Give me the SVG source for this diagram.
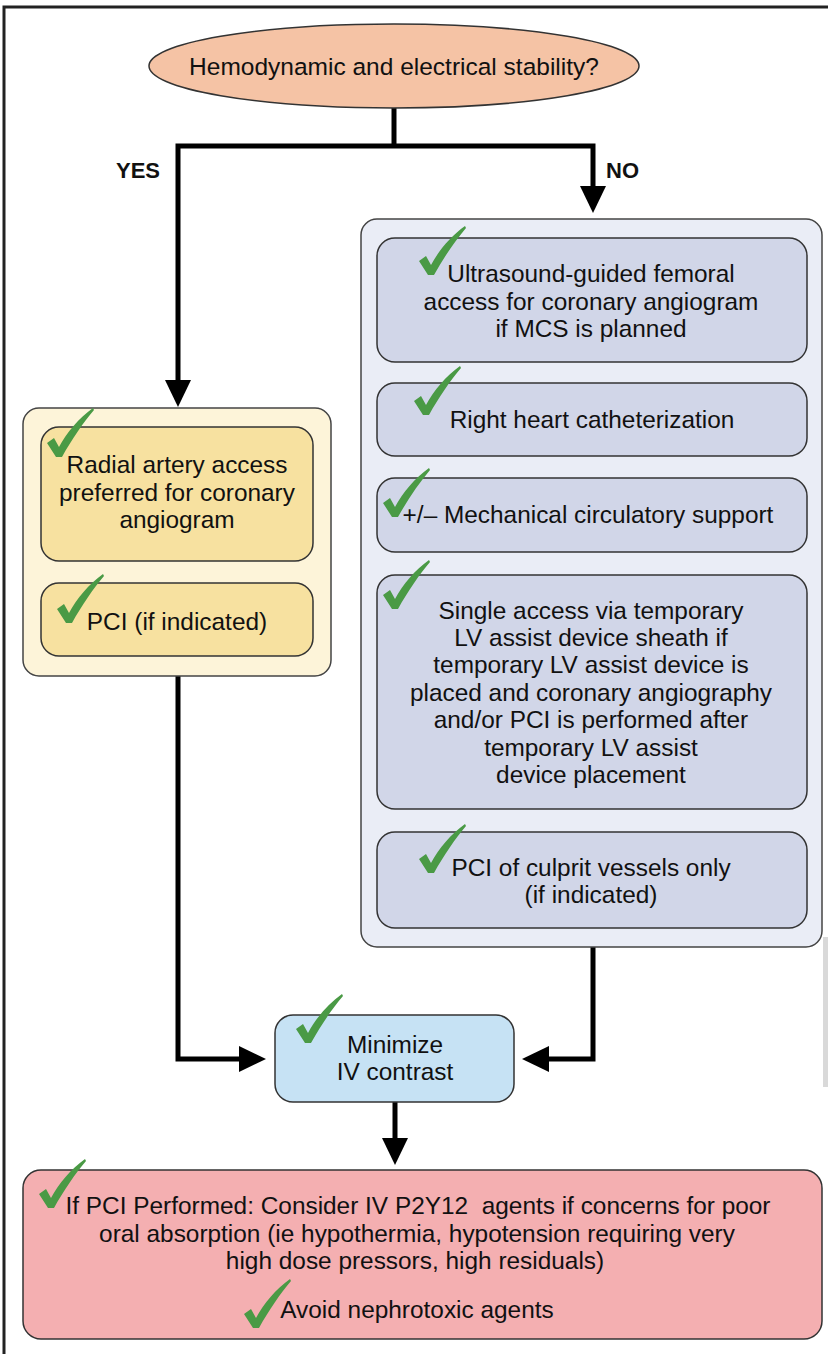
<svg xmlns="http://www.w3.org/2000/svg" xmlns:xlink="http://www.w3.org/1999/xlink" width="828" height="1354" viewBox="0 0 828 1354">
<style>
text{font-family:"Liberation Sans",Arial,Helvetica,sans-serif;fill:#111;}
.t{font-size:24.4px;text-anchor:middle;}
.lbl{font-size:22px;font-weight:bold;}
.box{stroke:#333;stroke-width:1.5;}
.cont{stroke:#444;stroke-width:1.5;}
.blue-in{fill:#d1d6e8;}
.yel-in{fill:#f7e1a0;}
.conn{fill:none;stroke:#000;stroke-width:5;stroke-linejoin:miter;}
.chk{fill:#4a9a45;}
</style>
<defs>
<marker id="ah" markerUnits="userSpaceOnUse" viewBox="0 0 27 26" refX="0" refY="13" markerWidth="27" markerHeight="26" orient="auto">
<path d="M0,0 L27,13 L0,26 Z" fill="#000"/>
</marker>
<path id="ck" class="chk" d="M0,35 L7,30 L12,39 C20,24 32,10 46,0 L47,2 C36,15 25,31 15,49 L9,49 Z"/>
</defs>
<rect width="828" height="1354" fill="#fff"/>
<g id="frame" fill="none" stroke="#222" stroke-width="3">
<path d="M4,1354 V7 H828"/>
</g>
<rect x="823" y="937" width="5" height="150" fill="#d9d9d9"/>

<g id="connectors">
<path class="conn" d="M394,108 V146"/>
<path class="conn" d="M394,146 H178 V380" marker-end="url(#ah)"/>
<path class="conn" d="M394,146 H593 V186" marker-end="url(#ah)"/>
<path class="conn" d="M178,676 V1059 H239" marker-end="url(#ah)"/>
<path class="conn" d="M593,947 V1059 H549" marker-end="url(#ah)"/>
<path class="conn" d="M395,1102 V1138" marker-end="url(#ah)"/>
</g>
<text class="lbl" x="116" y="178">YES</text>
<text class="lbl" x="606" y="178">NO</text>

<g id="start">
<ellipse cx="394" cy="66" rx="245" ry="42" fill="#f5c3a5" stroke="#333" stroke-width="1.5"/>
<text class="t" x="394" y="75" style="font-size:24.5px">Hemodynamic and electrical stability?</text>
</g>

<g id="no-branch">
<rect class="cont" x="361" y="219" width="461" height="728" rx="16" fill="#eaedf6"/>
</g>
<g id="ultrasound">
<rect class="box blue-in" x="377" y="238" width="430" height="124" rx="18"/>
<use xlink:href="#ck" x="419" y="226"/>
<text class="t" x="591" y="282">Ultrasound-guided femoral</text>
<text class="t" x="591" y="310">access for coronary angiogram</text>
<text class="t" x="591" y="337">if MCS is planned</text>
</g>
<g id="rhc">
<rect class="box blue-in" x="377" y="383" width="430" height="73" rx="18"/>
<use xlink:href="#ck" x="414" y="366"/>
<text class="t" x="592" y="428">Right heart catheterization</text>
</g>
<g id="mcs">
<rect class="box blue-in" x="377" y="478" width="430" height="74" rx="18"/>
<use xlink:href="#ck" x="383" y="468"/>
<text class="t" x="588" y="523">+/– Mechanical circulatory support</text>
</g>
<g id="single-access">
<rect class="box blue-in" x="377" y="575" width="430" height="234" rx="18"/>
<use xlink:href="#ck" x="383" y="560"/>
<text class="t" x="591" y="619">Single access via temporary</text>
<text class="t" x="591" y="646">LV assist device sheath if</text>
<text class="t" x="591" y="673">temporary LV assist device is</text>
<text class="t" x="591" y="701">placed and coronary angiography</text>
<text class="t" x="591" y="728">and/or PCI is performed after</text>
<text class="t" x="591" y="756">temporary LV assist</text>
<text class="t" x="591" y="783">device placement</text>
</g>
<g id="pci-culprit">
<rect class="box blue-in" x="377" y="832" width="430" height="96" rx="18"/>
<use xlink:href="#ck" x="419" y="824"/>
<text class="t" x="591" y="876">PCI of culprit vessels only</text>
<text class="t" x="591" y="903">(if indicated)</text>
</g>

<g id="yes-branch">
<rect class="cont" x="23" y="408" width="308" height="268" rx="16" fill="#fdf4d9"/>
</g>
<g id="radial">
<rect class="box yel-in" x="41" y="427" width="272" height="134" rx="18"/>
<use xlink:href="#ck" x="47" y="408"/>
<text class="t" x="177" y="473">Radial artery access</text>
<text class="t" x="177" y="501">preferred for coronary</text>
<text class="t" x="177" y="528">angiogram</text>
</g>
<g id="pci-yes">
<rect class="box yel-in" x="41" y="583" width="272" height="73" rx="18"/>
<use xlink:href="#ck" x="57" y="574"/>
<text class="t" x="177" y="630">PCI (if indicated)</text>
</g>

<g id="contrast">
<rect class="box" x="275" y="1015" width="239" height="87" rx="18" fill="#c6e2f4"/>
<use xlink:href="#ck" x="296" y="994"/>
<text class="t" x="395" y="1053">Minimize</text>
<text class="t" x="395" y="1080">IV contrast</text>
</g>

<g id="final">
<rect class="box" x="23" y="1170" width="799" height="169" rx="18" fill="#f4afb1"/>
<use xlink:href="#ck" x="39" y="1159"/>
<text class="t" x="418" y="1214">If PCI Performed: Consider IV P2Y12&#160; agents if concerns for poor</text>
<text class="t" x="417" y="1242">oral absorption (ie hypothermia, hypotension requiring very</text>
<text class="t" x="415" y="1269">high dose pressors, high residuals)</text>
<use xlink:href="#ck" x="244" y="1279"/>
<text class="t" x="417" y="1318">Avoid nephrotoxic agents</text>
</g>
</svg>
